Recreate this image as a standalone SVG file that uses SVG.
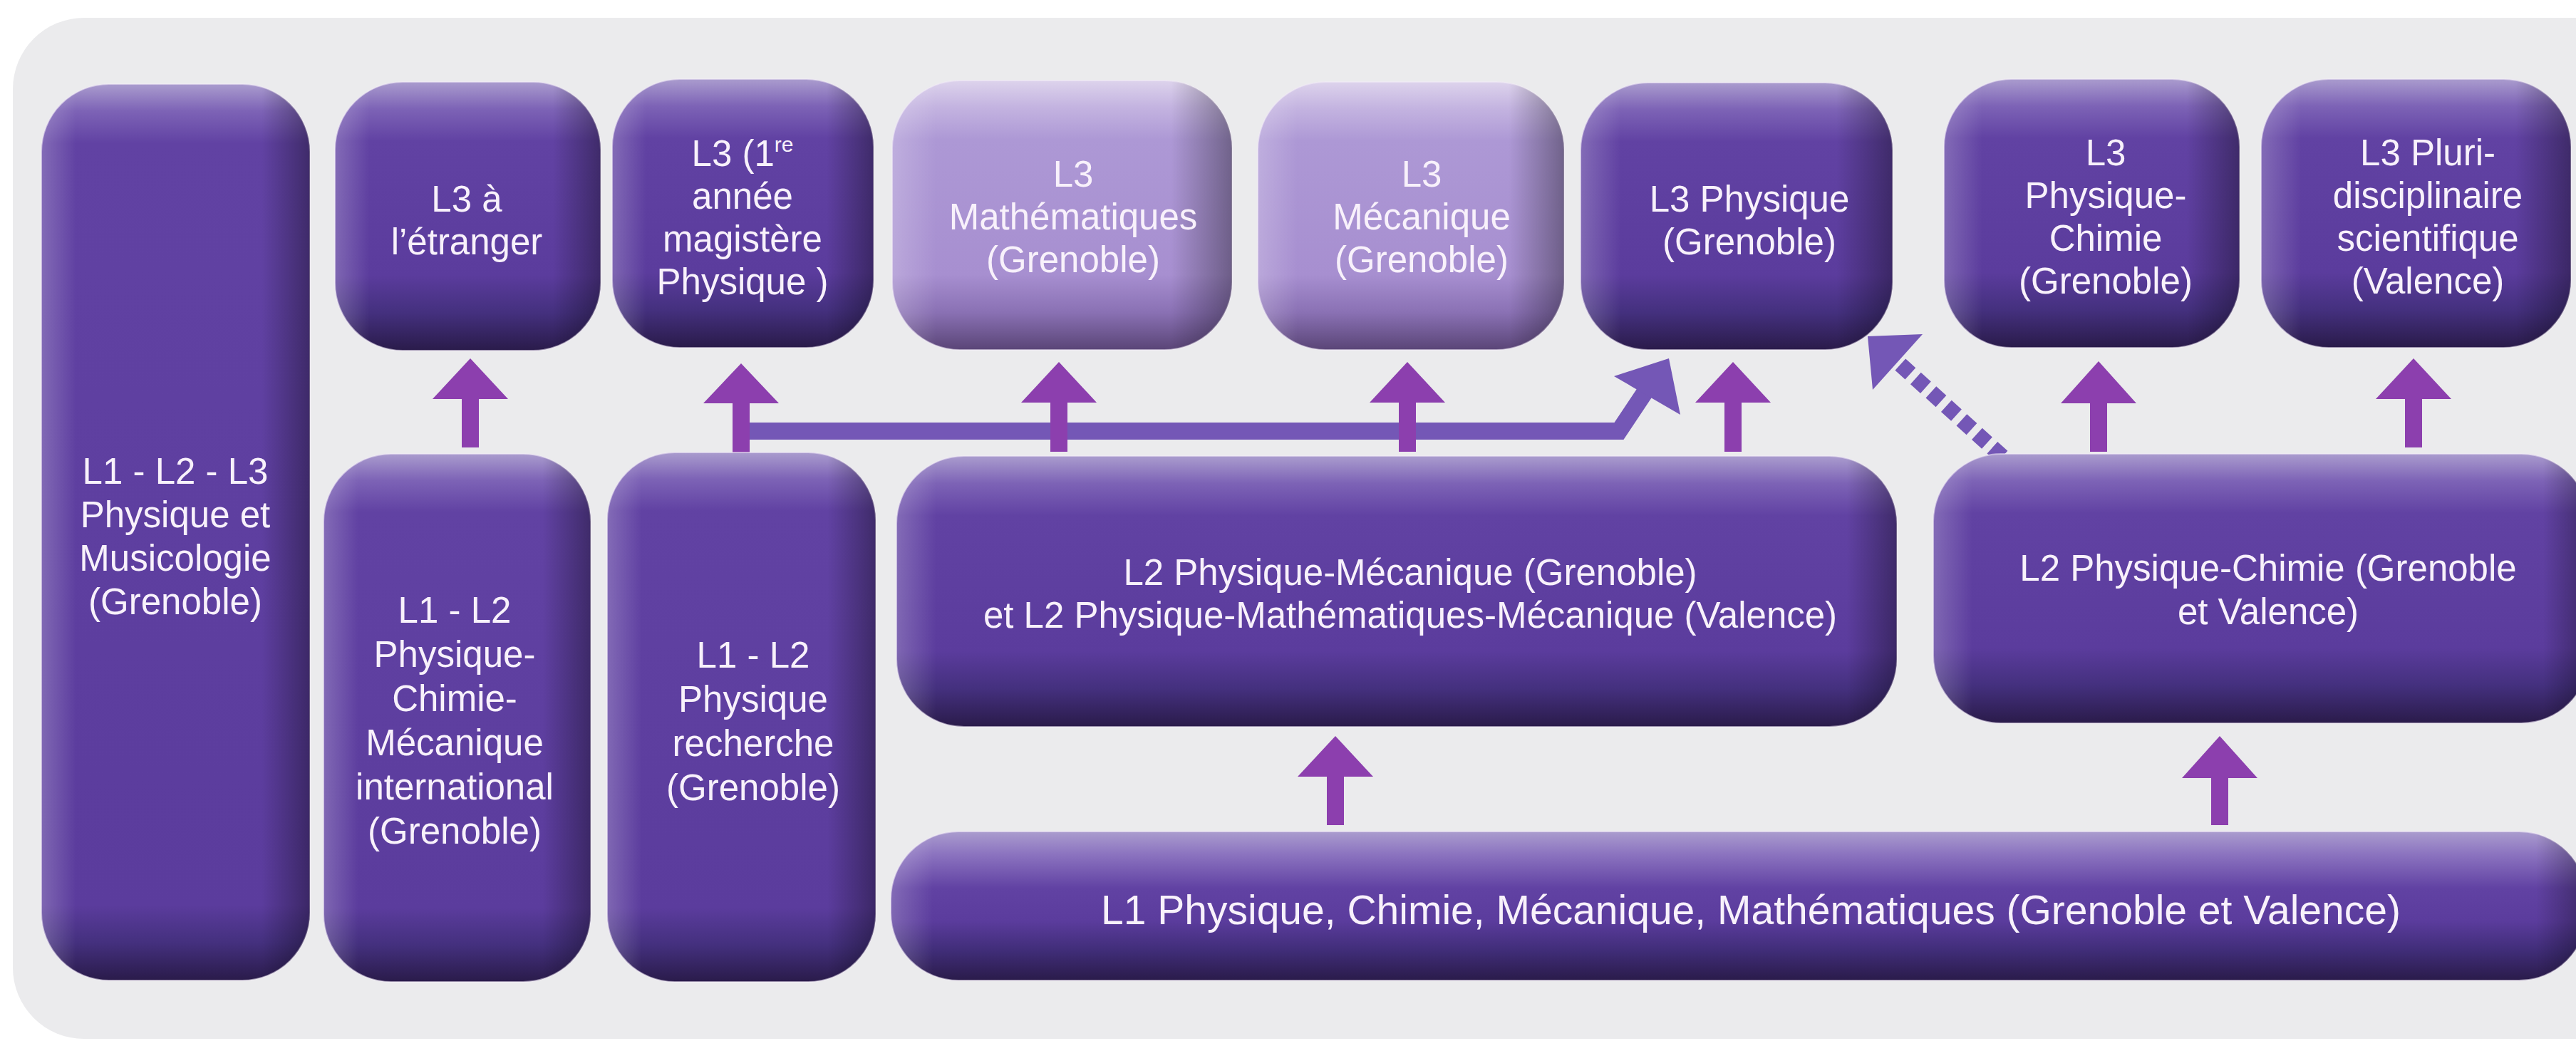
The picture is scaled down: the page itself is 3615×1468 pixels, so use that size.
<svg xmlns="http://www.w3.org/2000/svg" width="3615" height="1468" viewBox="0 0 3615 1468">
<defs>
<style>
.t{font-family:"Liberation Sans",Arial,Helvetica,sans-serif;font-size:51px;fill:#f8f1fb;text-anchor:middle}
.tl{font-size:57px}
.b{stroke:#f3ebf8;stroke-width:2;stroke-opacity:.55}
.arr{fill:#8c3fae}
.lnk{fill:#7457b6}
</style>
<linearGradient id="vA" x1="0" y1="0" x2="0" y2="1">
<stop offset="0" stop-color="#aa9cce"/><stop offset=".10" stop-color="#7d63b6"/><stop offset=".22" stop-color="#6142a3"/><stop offset=".72" stop-color="#5b3c9d"/><stop offset=".86" stop-color="#44307e"/><stop offset="1" stop-color="#2a1b4a"/>
</linearGradient>
<linearGradient id="vL" x1="0" y1="0" x2="0" y2="1">
<stop offset="0" stop-color="#ddd3ec"/><stop offset=".10" stop-color="#c3b3e0"/><stop offset=".22" stop-color="#ad98d5"/><stop offset=".72" stop-color="#a78fd0"/><stop offset=".86" stop-color="#8a71b4"/><stop offset="1" stop-color="#5a4577"/>
</linearGradient>
<linearGradient id="vB" x1="0" y1="0" x2="0" y2="1">
<stop offset="0" stop-color="#aa9cce"/><stop offset=".05" stop-color="#7d63b6"/><stop offset=".11" stop-color="#6142a3"/><stop offset=".86" stop-color="#5b3c9d"/><stop offset=".93" stop-color="#44307e"/><stop offset="1" stop-color="#2a1b4a"/>
</linearGradient>
<linearGradient id="vC" x1="0" y1="0" x2="0" y2="1">
<stop offset="0" stop-color="#aa9cce"/><stop offset=".03" stop-color="#7d63b6"/><stop offset=".066" stop-color="#6142a3"/><stop offset=".916" stop-color="#5b3c9d"/><stop offset=".958" stop-color="#44307e"/><stop offset="1" stop-color="#2a1b4a"/>
</linearGradient>
<linearGradient id="vD" x1="0" y1="0" x2="0" y2="1">
<stop offset="0" stop-color="#aa9cce"/><stop offset=".15" stop-color="#8c74c0"/><stop offset=".38" stop-color="#6142a3"/><stop offset=".6" stop-color="#5b3c9d"/><stop offset=".8" stop-color="#402d78"/><stop offset="1" stop-color="#2a1b4a"/>
</linearGradient>
<linearGradient id="hN" x1="0" y1="0" x2="1" y2="0">
<stop offset="0" stop-color="#fff" stop-opacity=".22"/><stop offset=".13" stop-color="#fff" stop-opacity="0"/><stop offset=".82" stop-color="#000" stop-opacity="0"/><stop offset="1" stop-color="#000" stop-opacity=".35"/>
</linearGradient>
<linearGradient id="hM" x1="0" y1="0" x2="1" y2="0">
<stop offset="0" stop-color="#fff" stop-opacity=".22"/><stop offset=".04" stop-color="#fff" stop-opacity="0"/><stop offset=".95" stop-color="#000" stop-opacity="0"/><stop offset="1" stop-color="#000" stop-opacity=".35"/>
</linearGradient>
<linearGradient id="hP" x1="0" y1="0" x2="1" y2="0">
<stop offset="0" stop-color="#fff" stop-opacity=".22"/><stop offset=".06" stop-color="#fff" stop-opacity="0"/><stop offset=".93" stop-color="#000" stop-opacity="0"/><stop offset="1" stop-color="#000" stop-opacity=".35"/>
</linearGradient>
<linearGradient id="hW" x1="0" y1="0" x2="1" y2="0">
<stop offset="0" stop-color="#fff" stop-opacity=".22"/><stop offset=".025" stop-color="#fff" stop-opacity="0"/><stop offset=".97" stop-color="#000" stop-opacity="0"/><stop offset="1" stop-color="#000" stop-opacity=".35"/>
</linearGradient>
</defs>

<rect width="3615" height="1468" fill="#ffffff"/>
<rect id="panel" x="18" y="25" width="3700" height="1433" rx="100" fill="#ebebed"/>

<g id="connectors">
  <polyline points="1040,605 2272,605 2310,548" fill="none" stroke="#7457b6" stroke-width="24" stroke-linejoin="miter"/>
  <polygon class="lnk" points="2265,528 2342,503 2358,582"/>
  <line x1="2810" y1="641" x2="2664" y2="509" stroke="#7457b6" stroke-width="22" stroke-dasharray="19 10"/>
  <polygon class="lnk" points="2621,472 2698,469 2628,547"/>
  <polygon class="arr" points="660,503 713,560 672,560 672,628 648,628 648,560 607,560"/>
  <polygon class="arr" points="1040,510 1093,566 1052,566 1052,637 1028,637 1028,566 987,566"/>
  <polygon class="arr" points="1486,508 1539,565 1498,565 1498,634 1474,634 1474,565 1433,565"/>
  <polygon class="arr" points="1975,508 2028,565 1987,565 1987,634 1963,634 1963,565 1922,565"/>
  <polygon class="arr" points="2432,508 2485,565 2444,565 2444,634 2420,634 2420,565 2379,565"/>
  <polygon class="arr" points="2945,507 2998,566 2957,566 2957,634 2933,634 2933,566 2892,566"/>
  <polygon class="arr" points="3387,503 3440,560 3399,560 3399,628 3375,628 3375,560 3334,560"/>
  <polygon class="arr" points="1874,1033 1927,1090 1886,1090 1886,1158 1862,1158 1862,1090 1821,1090"/>
  <polygon class="arr" points="3115,1033 3168,1092 3127,1092 3127,1158 3103,1158 3103,1092 3062,1092"/>
</g>

<g id="n-etranger">
  <rect class="b" x="470" y="115" width="373" height="377" rx="95" fill="url(#vA)"/>
  <rect x="470" y="115" width="373" height="377" rx="95" fill="url(#hN)"/>
  <text class="t"><tspan x="655" y="297">L3 à</tspan><tspan x="655" y="357">l’étranger</tspan></text>
</g>
<g id="n-magistere">
  <rect class="b" x="859" y="111" width="367" height="377" rx="95" fill="url(#vA)"/>
  <rect x="859" y="111" width="367" height="377" rx="95" fill="url(#hN)"/>
  <text class="t"><tspan x="1042" y="233">L3 (1<tspan font-size="30" dy="-20">re</tspan></tspan><tspan x="1042" y="293">année</tspan><tspan x="1042" y="353">magistère</tspan><tspan x="1042" y="413">Physique )</tspan></text>
</g>
<g id="n-math">
  <rect class="b" x="1252" y="113" width="477" height="378" rx="95" fill="url(#vL)"/>
  <rect x="1252" y="113" width="477" height="378" rx="95" fill="url(#hN)"/>
  <text class="t"><tspan x="1506" y="262">L3</tspan><tspan x="1506" y="322">Mathématiques</tspan><tspan x="1506" y="382">(Grenoble)</tspan></text>
</g>
<g id="n-meca">
  <rect class="b" x="1765" y="115" width="430" height="376" rx="95" fill="url(#vL)"/>
  <rect x="1765" y="115" width="430" height="376" rx="95" fill="url(#hN)"/>
  <text class="t"><tspan x="1995" y="262">L3</tspan><tspan x="1995" y="322">Mécanique</tspan><tspan x="1995" y="382">(Grenoble)</tspan></text>
</g>
<g id="n-physique">
  <rect class="b" x="2218" y="116" width="438" height="375" rx="95" fill="url(#vA)"/>
  <rect x="2218" y="116" width="438" height="375" rx="95" fill="url(#hN)"/>
  <text class="t"><tspan x="2455" y="297">L3 Physique</tspan><tspan x="2455" y="357">(Grenoble)</tspan></text>
</g>
<g id="n-physchimie">
  <rect class="b" x="2728" y="111" width="415" height="377" rx="95" fill="url(#vA)"/>
  <rect x="2728" y="111" width="415" height="377" rx="95" fill="url(#hN)"/>
  <text class="t"><tspan x="2955" y="232">L3</tspan><tspan x="2955" y="292">Physique-</tspan><tspan x="2955" y="352">Chimie</tspan><tspan x="2955" y="412">(Grenoble)</tspan></text>
</g>
<g id="n-pluri">
  <rect class="b" x="3173" y="111" width="435" height="377" rx="95" fill="url(#vA)"/>
  <rect x="3173" y="111" width="435" height="377" rx="95" fill="url(#hN)"/>
  <text class="t"><tspan x="3407" y="232">L3 Pluri-</tspan><tspan x="3407" y="292">disciplinaire</tspan><tspan x="3407" y="352">scientifique</tspan><tspan x="3407" y="412">(Valence)</tspan></text>
</g>
<g id="n-musicologie">
  <rect class="b" x="58" y="118" width="377" height="1258" rx="95" fill="url(#vC)"/>
  <rect x="58" y="118" width="377" height="1258" rx="95" fill="url(#hN)"/>
  <text class="t"><tspan x="246" y="679">L1 - L2 - L3</tspan><tspan x="246" y="740">Physique et</tspan><tspan x="246" y="801">Musicologie</tspan><tspan x="246" y="862">(Grenoble)</tspan></text>
</g>
<g id="n-international">
  <rect class="b" x="454" y="637" width="375" height="741" rx="95" fill="url(#vB)"/>
  <rect x="454" y="637" width="375" height="741" rx="95" fill="url(#hN)"/>
  <text class="t"><tspan x="638" y="874">L1 - L2</tspan><tspan x="638" y="936">Physique-</tspan><tspan x="638" y="998">Chimie-</tspan><tspan x="638" y="1060">Mécanique</tspan><tspan x="638" y="1122">international</tspan><tspan x="638" y="1184">(Grenoble)</tspan></text>
</g>
<g id="n-recherche">
  <rect class="b" x="852" y="635" width="377" height="743" rx="95" fill="url(#vB)"/>
  <rect x="852" y="635" width="377" height="743" rx="95" fill="url(#hN)"/>
  <text class="t"><tspan x="1057" y="937">L1 - L2</tspan><tspan x="1057" y="999">Physique</tspan><tspan x="1057" y="1061">recherche</tspan><tspan x="1057" y="1123">(Grenoble)</tspan></text>
</g>
<g id="n-l2pm">
  <rect class="b" x="1258" y="640" width="1404" height="380" rx="95" fill="url(#vA)"/>
  <rect x="1258" y="640" width="1404" height="380" rx="95" fill="url(#hM)"/>
  <text class="t"><tspan x="1979" y="821">L2 Physique-Mécanique (Grenoble)</tspan><tspan x="1979" y="881">et L2 Physique-Mathématiques-Mécanique (Valence)</tspan></text>
</g>
<g id="n-l2pc">
  <rect class="b" x="2713" y="637" width="920" height="378" rx="95" fill="url(#vA)"/>
  <rect x="2713" y="637" width="920" height="378" rx="95" fill="url(#hP)"/>
  <text class="t"><tspan x="3183" y="815">L2 Physique-Chimie (Grenoble</tspan><tspan x="3183" y="876">et Valence)</tspan></text>
</g>
<g id="n-l1">
  <rect class="b" x="1250" y="1167" width="2380" height="209" rx="95" fill="url(#vD)"/>
  <rect x="1250" y="1167" width="2380" height="209" rx="95" fill="url(#hW)"/>
  <text class="t tl" x="2457" y="1297">L1 Physique, Chimie, Mécanique, Mathématiques (Grenoble et Valence)</text>
</g>
</svg>
